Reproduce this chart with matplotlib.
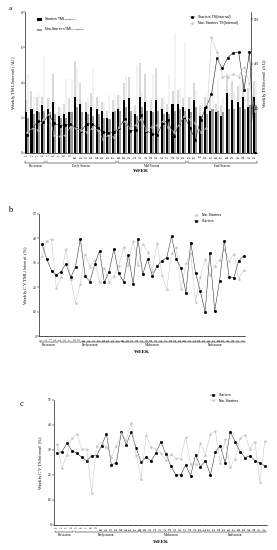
import matplotlib
matplotlib.use("Agg")
import matplotlib.pyplot as plt
import matplotlib.transforms as mtransforms
import numpy as np

weeks = list(range(1, 44))

# panel a: weekly load (left axis, AU) and strain (right axis, AU)
starters_tml = [2.3, 2.5, 2.4, 2.7, 2.5, 2.9, 2.1, 2.2, 2.3, 3.2, 2.8, 2.3, 2.6, 2.5,
                2.4, 2.0, 2.3, 2.5, 3.0, 3.1, 2.2, 3.2, 2.9, 2.4, 3.0, 2.5, 2.3, 2.8,
                2.8, 2.6, 2.5, 3.0, 2.1, 2.6, 2.4, 2.3, 2.1, 3.4, 3.0, 2.9, 3.2, 2.6, 3.2]
starters_tml_sd = [0.7, 1.0, 0.8, 0.5, 0.6, 1.6, 0.5, 0.6, 0.8, 2.0, 1.2, 0.6, 0.8, 0.7,
                   0.5, 0.4, 0.7, 0.8, 1.0, 1.2, 0.5, 1.9, 1.6, 0.6, 1.8, 0.6, 0.5, 0.7,
                   0.8, 0.5, 0.7, 1.0, 0.6, 0.6, 0.6, 0.5, 0.6, 1.1, 1.1, 0.9, 1.0, 1.1, 0.9]
nonstarters_tml = [2.0, 2.2, 2.3, 2.4, 2.3, 2.2, 2.0, 2.0, 2.3, 2.6, 2.3, 2.2, 2.1, 2.2,
                   2.0, 1.9, 2.4, 2.4, 2.6, 2.4, 2.1, 2.6, 2.4, 2.3, 2.4, 2.2, 2.2, 2.4,
                   2.5, 2.4, 2.3, 2.6, 2.1, 2.2, 2.5, 2.4, 2.3, 2.5, 2.5, 2.6, 2.5, 2.7, 2.7]
nonstarters_tml_sd = [2.5, 1.0, 1.0, 3.1, 0.9, 0.8, 0.6, 2.2, 1.9, 2.3, 0.7, 0.9, 2.7, 0.8,
                      0.9, 1.4, 1.0, 0.9, 1.7, 0.7, 2.9, 0.9, 0.8, 2.2, 0.8, 1.0, 2.2, 4.4,
                      1.2, 3.9, 0.9, 1.0, 0.8, 1.0, 1.5, 1.8, 0.9, 0.9, 1.0, 1.9, 2.4, 2.2, 1.4]
starters_ts = [82, 110, 142, 138, 170, 134, 122, 126, 130, 110, 100, 130, 130, 114,
               92, 89, 92, 114, 154, 100, 104, 171, 100, 86, 82, 134, 148, 74, 126,
               163, 114, 59, 148, 205, 263, 424, 379, 428, 449, 453, 284, 453, 0]
nonstarters_ts = [95, 110, 103, 150, 174, 79, 75, 79, 118, 110, 103, 95, 110, 103,
                  63, 79, 71, 118, 142, 110, 126, 150, 103, 118, 126, 142, 118, 95, 126,
                  166, 150, 134, 95, 110, 521, 453, 342, 342, 355, 342, 387, 316, 190]

# panel b: CV of weekly load (%)
b_starters = [37.8, 31.5, 26.8, 25.0, 26.4, 29.5, 24.0, 28.4, 39.8, 24.6, 22.3, 29.4, 34.9,
              22.0, 26.4, 35.6, 25.7, 22.3, 33.2, 21.2, 39.8, 25.3, 31.5, 24.6, 28.7, 30.9,
              32.1, 40.8, 31.5, 27.7, 17.7, 38.3, 26.0, 18.4, 9.9, 34.2, 10.3, 22.5, 39.1,
              24.3, 23.9, 30.8, 32.8]
b_nonstarters = [32.6, 39.0, 39.7, 19.5, 24.3, 35.6, 23.4, 13.7, 21.3, 33.5, 28.4, 31.2, 22.0,
                 28.0, 22.0, 24.6, 28.8, 36.3, 29.1, 39.0, 29.1, 37.8, 34.6, 26.8, 38.0, 25.0,
                 19.2, 33.9, 36.3, 19.1, 29.8, 33.9, 14.0, 24.0, 31.5, 25.0, 28.7, 31.2, 35.7,
                 30.9, 33.7, 23.4, 27.1]

# panel c: CV of weekly strain (%)
c_starters = [28.9, 29.3, 32.7, 29.7, 28.7, 27.1, 25.6, 27.7, 27.7, 31.7, 36.4, 24.0, 24.9,
              37.1, 32.0, 37.3, 30.7, 25.1, 27.1, 25.6, 28.7, 33.3, 28.4, 23.7, 20.0, 20.0,
              24.0, 19.7, 28.0, 23.3, 25.7, 20.0, 29.1, 31.7, 24.7, 37.3, 33.3, 29.3, 26.9,
              27.7, 25.7, 24.7, 23.6]
c_nonstarters = [32.4, 22.7, 28.0, 34.9, 36.3, 30.4, 30.3, 12.9, 31.6, 32.9, 31.1, 27.3, 31.6,
                 36.9, 34.0, 40.9, 28.0, 18.3, 36.0, 31.1, 30.3, 28.7, 26.0, 28.3, 26.7, 26.4,
                 35.1, 24.4, 24.4, 32.7, 28.0, 36.4, 37.6, 24.7, 34.3, 23.1, 26.3, 34.7, 36.0,
                 30.4, 33.3, 17.3, 33.7]

phases = [(1, 4), (5, 17), (18, 30), (31, 43)]
phase_names_a = ["Preseason", "Early Season", "Mid-Season", "End Season"]
phase_names_b = ["Preseason", "Earlyseason", "Midseason", "Endseason"]

SERIF = "Liberation Serif"
SANS = "Liberation Sans"
GREY = "#c4c4c4"
BAR_GREY = "#9a9a9a"


def week_axis(ax, names, label_y, week_y):
    ax.set_xticks(weeks)
    ax.set_xticklabels([str(w) for w in weeks], rotation=90, fontsize=2.0, family=SERIF)
    ax.tick_params(axis="x", length=1.0, width=0.3, pad=0.5)
    trans = mtransforms.blended_transform_factory(ax.transData, ax.transAxes)
    for (lo, hi), name in zip(phases, names):
        x0, x1 = lo - 0.3, hi + 0.3
        ax.plot([x0, x0, x1, x1], [label_y + 0.01, label_y, label_y, label_y + 0.01],
                color="black", lw=0.35, transform=trans, clip_on=False)
        ax.text((lo + hi) / 2, label_y - 0.006, name, transform=trans, ha="center",
                va="top", fontsize=2.4, family=SERIF)
    ax.text(0.5, week_y, "WEEK", transform=ax.transAxes, ha="center",
            va="top", fontsize=3.8, weight="bold", family=SERIF)


def style_axes(ax):
    for s in ("top", "right"):
        ax.spines[s].set_visible(False)
    for s in ("left", "bottom"):
        ax.spines[s].set_linewidth(0.45)
    ax.tick_params(axis="y", labelsize=2.5, length=1.2, width=0.35, pad=0.8)
    for t in ax.get_yticklabels():
        t.set_family(SERIF)


line_kw = dict(lw=0.35, ms=1.0)

fig = plt.figure(figsize=(2.77, 5.5), dpi=100)

# ---------------- panel a ----------------
ax = fig.add_axes([0.090, 0.722, 0.838, 0.256])
x = np.array(weeks)
w = 0.38
ax.bar(x - w / 2, starters_tml, w, color="black", zorder=2)
ax.bar(x + w / 2, nonstarters_tml, w, color=BAR_GREY, zorder=2)
ax.errorbar(x - w / 2, starters_tml, yerr=[np.zeros(43), starters_tml_sd], fmt="none",
            ecolor="#666666", elinewidth=0.35, capsize=0, zorder=1)
ax.errorbar(x + w / 2, nonstarters_tml, yerr=[np.zeros(43), nonstarters_tml_sd], fmt="none",
            ecolor="#cfcfcf", elinewidth=0.35, capsize=0, zorder=1)
ax.set_xlim(0.6, 43.4)
ax.set_ylim(0, 8)
ax.set_yticks([0, 2, 4, 6, 8])
style_axes(ax)
ax.set_ylabel("Weekly TML$_{(Internal)}$ (AU)", fontsize=3.4, family=SERIF, labelpad=2)
week_axis(ax, phase_names_a, label_y=-0.07, week_y=-0.115)
h1 = ax.bar([0], [0], color="black", label="Starters TML$_{(Internal)}$")
h2 = ax.bar([0], [0], color=BAR_GREY, label="Non-Starters TML$_{(Internal)}$")
ax.legend(handles=[h1, h2], loc="upper left", bbox_to_anchor=(0.04, 1.0),
          frameon=False, handlelength=1.2, handleheight=0.6,
          prop={"family": SANS, "size": 2.5})

ax2 = ax.twinx()
ax2.plot(x, starters_ts, color="black", marker="s", label="Starters TS(Internal)", **line_kw)
ax2.plot(x, nonstarters_ts, color=GREY, marker="^", label="Non-Starters TS(Internal)", **line_kw)
ax2.set_ylim(0, 632)
ax2.set_yticks([200, 400, 600])
ax2.spines["top"].set_visible(False)
ax2.spines["left"].set_visible(False)
ax2.spines["bottom"].set_visible(False)
ax2.spines["right"].set_linewidth(0.45)
ax2.spines["right"].set_position(("axes", 0.975))
ax2.tick_params(axis="y", labelsize=2.5, length=1.2, width=0.35, pad=0.8)
for t in ax2.get_yticklabels():
    t.set_family(SERIF)
ax2.set_ylabel("Weekly TS$_{(Internal)}$ (AU)", fontsize=3.4, family=SERIF, labelpad=2)
ax2.legend(loc="upper right", bbox_to_anchor=(0.93, 1.0), frameon=False, handlelength=1.5,
           prop={"family": SANS, "size": 2.5})
fig.text(0.03, 0.99, "a", fontsize=5, family=SERIF, va="top")

# ---------------- panel b ----------------
bx = fig.add_axes([0.141, 0.389, 0.745, 0.222])
bx.plot(x, b_nonstarters, color=GREY, marker="^", label="Non-Starters", **line_kw)
bx.plot(x, b_starters, color="#222222", marker="s", mfc="black", mec="black",
        label="Starters", **line_kw)
bx.set_xlim(0.4, 43.4)
bx.set_ylim(0, 50)
bx.set_yticks([0, 10, 20, 30, 40, 50])
style_axes(bx)
bx.set_ylabel("Weekly CV TML$_{(Internal)}$ (%)", fontsize=3.4, family=SERIF, labelpad=2)
week_axis(bx, phase_names_b, label_y=-0.05, week_y=-0.115)
bx.legend(loc="upper right", bbox_to_anchor=(0.9, 1.03), frameon=False, handlelength=1.5,
          prop={"family": SANS, "size": 2.5})
fig.text(0.03, 0.625, "b", fontsize=6, family=SERIF, va="top")

# ---------------- panel c ----------------
cx = fig.add_axes([0.195, 0.0455, 0.77, 0.2275])
cx.plot(x, c_starters, color="#222222", marker="s", mfc="black", mec="black",
        label="Starters", **line_kw)
cx.plot(x, c_nonstarters, color=GREY, marker="^", label="Non-Starters", **line_kw)
cx.set_xlim(0.4, 43.5)
cx.set_ylim(0, 50)
cx.set_yticks([0, 10, 20, 30, 40, 50])
style_axes(cx)
cx.set_ylabel("Weekly CV TS$_{(Internal)}$ (%)", fontsize=3.4, family=SERIF, labelpad=2)
week_axis(cx, phase_names_b, label_y=-0.056, week_y=-0.118)
cx.legend(loc="upper right", bbox_to_anchor=(0.88, 1.08), frameon=False, handlelength=1.5,
          prop={"family": SANS, "size": 2.5})
fig.text(0.07, 0.272, "c", fontsize=6, family=SERIF, va="top")

fig.savefig("out.png", dpi=100, facecolor="white")
